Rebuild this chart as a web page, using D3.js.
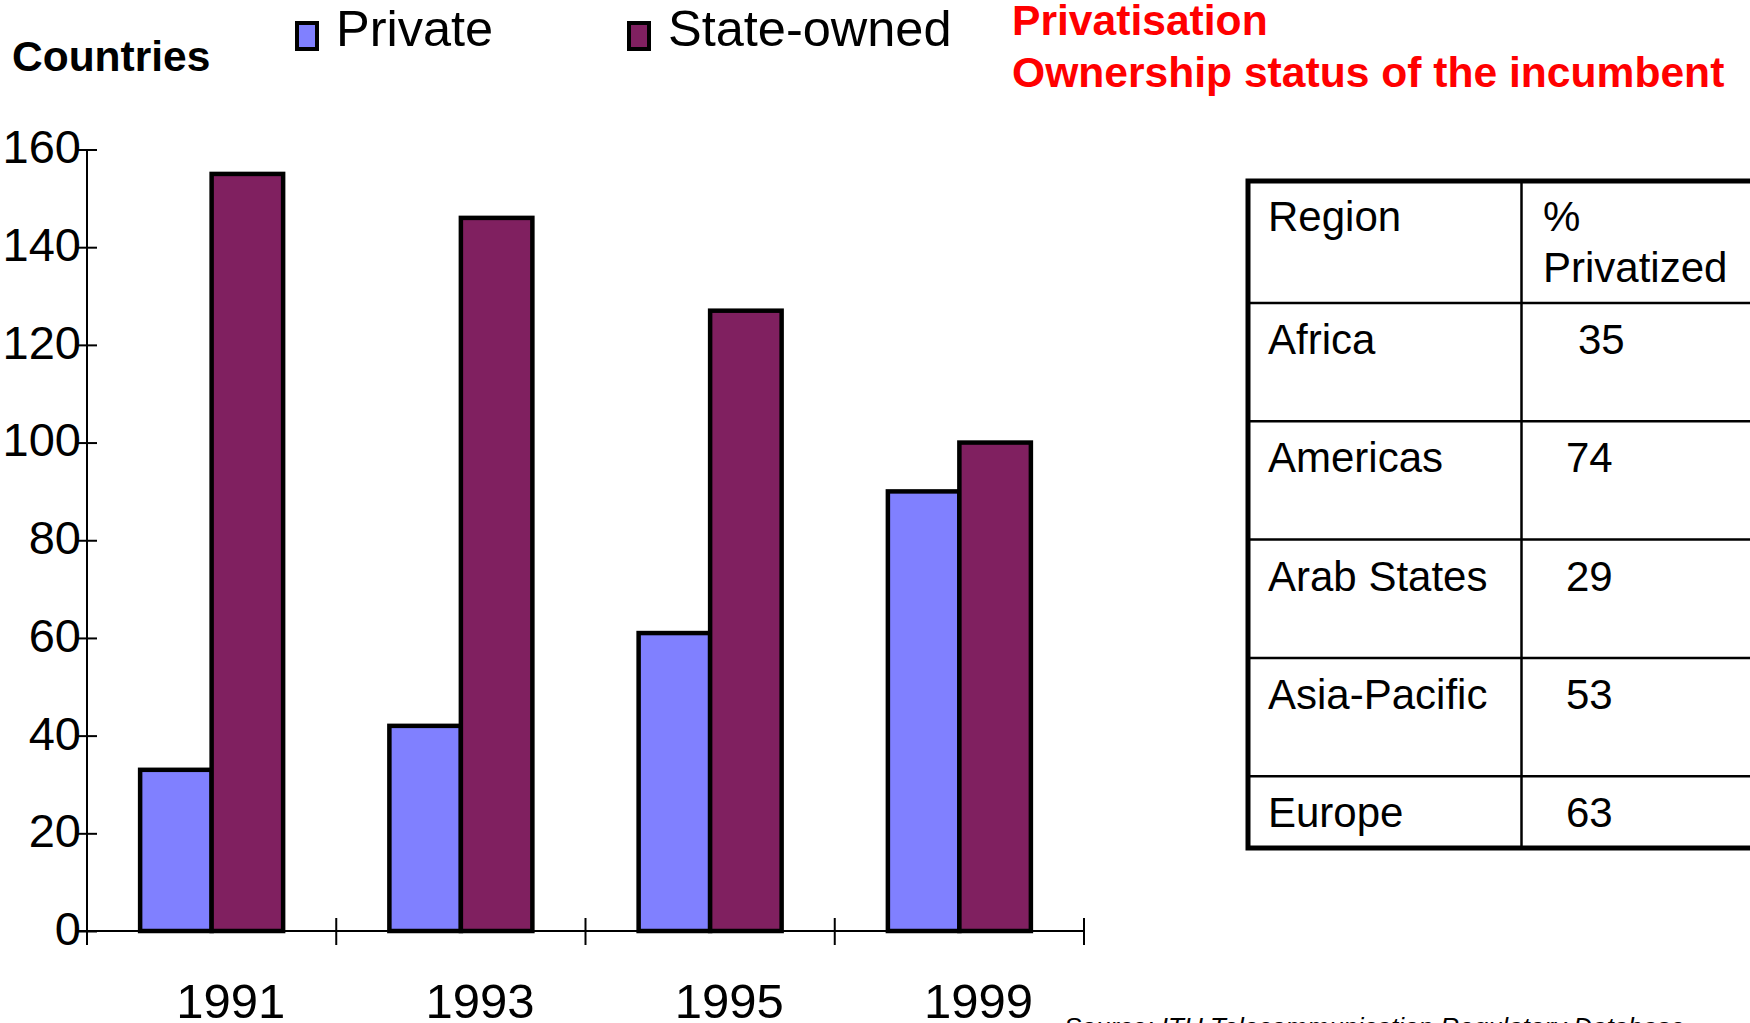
<!DOCTYPE html>
<html>
<head>
<meta charset="utf-8">
<script src="https://cdn.jsdelivr.net/npm/d3@7"></script>
<style>
  body { margin: 0; background: #fff; }
  svg { display: block; font-family: 'Liberation Sans', Arial, sans-serif; }
</style>
</head>
<body>
<svg id="chart" width="1750" height="1023"></svg>
<script>
// данные графика
const years = ['1991', '1993', '1995', '1999'];
const seriesNames = ['Private', 'State-owned'];
const privateCountries = [33, 42, 61, 90];
const stateCountries = [155, 146, 127, 100];
const yTicks = [0, 20, 40, 60, 80, 100, 120, 140, 160];

// таблица справа
const regions = ['Africa', 'Americas', 'Arab States', 'Asia-Pacific', 'Europe'];
const privatizedPct = [35, 74, 29, 53, 63];

const colors = {'Private': '#8080ff', 'State-owned': '#802060'};

const svg = d3.select('#chart');

const x0 = d3.scaleBand().domain(years).range([87, 1084]);
const groupW = 143;
const x1 = d3.scaleBand()
    .domain(seriesNames)
    .range([(x0.bandwidth() - groupW) / 2, (x0.bandwidth() + groupW) / 2]);
const y = d3.scaleLinear().domain([0, 160]).range([931, 149.5]);

// ось Y
const yAxis = svg.append('g')
    .attr('transform', 'translate(87,0)')
    .call(d3.axisLeft(y).tickValues(yTicks).tickSize(10));
yAxis.select('.domain').remove();
yAxis.selectAll('.tick line')
    .attr('x1', -10).attr('x2', 10)
    .attr('stroke', '#000').attr('stroke-width', 2);
yAxis.selectAll('.tick text')
    .attr('x', -6).attr('y', -3.5).attr('dy', '0.36em')
    .attr('fill', '#000')
    .style('font-size', '47px');
yAxis.append('line')
    .attr('y1', y(160)).attr('y2', 945)
    .attr('stroke', '#000').attr('stroke-width', 2);

// ось X: линия + засечки на границах групп
svg.append('line')
    .attr('x1', 77).attr('x2', x0.range()[1])
    .attr('y1', y(0)).attr('y2', y(0))
    .attr('stroke', '#000').attr('stroke-width', 2);
svg.append('g').selectAll('line')
    .data(years.map(d => x0(d)).concat(x0.range()[1]))
    .enter()
    .append('line')
    .attr('x1', d => d).attr('x2', d => d)
    .attr('y1', y(0) - 13).attr('y2', y(0) + 14)
    .attr('stroke', '#000').attr('stroke-width', 2);

const xAxis = svg.append('g')
    .attr('transform', 'translate(0,' + y(0) + ')')
    .call(d3.axisBottom(x0).tickSize(0));
xAxis.select('.domain').remove();
xAxis.selectAll('.tick text')
    .attr('y', 87).attr('dy', 0).attr('dx', 19)
    .attr('fill', '#000')
    .style('font-size', '49px');

// столбцы
const groups = svg.append('g').selectAll('g')
    .data(years.map((yr, i) => ({
        year: yr,
        values: [
            {name: 'Private', v: privateCountries[i]},
            {name: 'State-owned', v: stateCountries[i]}
        ]
    })))
    .enter()
    .append('g')
    .attr('transform', d => 'translate(' + x0(d.year) + ',0)');

groups.selectAll('rect')
    .data(d => d.values)
    .enter()
    .append('rect')
    .attr('x', d => x1(d.name))
    .attr('width', x1.bandwidth())
    .attr('y', d => y(d.v))
    .attr('height', d => y(0) - y(d.v))
    .attr('fill', d => colors[d.name])
    .attr('stroke', '#000')
    .attr('stroke-width', 4.5);

// легенда
const legendX = [297, 629];
const legend = svg.append('g').selectAll('g')
    .data(seriesNames)
    .enter()
    .append('g')
    .attr('transform', (d, i) => 'translate(' + legendX[i] + ',0)');
legend.append('rect')
    .attr('x', 0).attr('y', 23)
    .attr('width', 20).attr('height', 26)
    .attr('fill', d => colors[d])
    .attr('stroke', '#000').attr('stroke-width', 4);
legend.append('text')
    .attr('x', 39).attr('y', 46)
    .style('font-size', '50.5px')
    .text(d => d);

svg.append('text')
    .attr('x', 12).attr('y', 71)
    .style('font-size', '42.5px').style('font-weight', 'bold')
    .text('Countries');

// заголовок
const title = svg.append('g')
    .attr('fill', '#ff0000')
    .style('font-size', '42.6px').style('font-weight', 'bold');
title.append('text').attr('x', 1012).attr('y', 35).text('Privatisation');
title.append('text').attr('x', 1012).attr('y', 87).text('Ownership status of the incumbent');

// таблица
const tLeft = 1248, tDiv = 1521.5, tRight = 1780;
const tTop = 181, headBottom = 303, rowH = 118.3, tBottom = 848;
const table = svg.append('g');
const rowLines = regions.slice(1).map((d, i) => headBottom + (i + 1) * rowH);

table.selectAll('line.row')
    .data([headBottom].concat(rowLines))
    .enter()
    .append('line')
    .attr('class', 'row')
    .attr('x1', tLeft).attr('x2', tRight)
    .attr('y1', d => d).attr('y2', d => d)
    .attr('stroke', '#000').attr('stroke-width', 2.5);
table.append('line')
    .attr('x1', tDiv).attr('x2', tDiv)
    .attr('y1', tTop).attr('y2', tBottom)
    .attr('stroke', '#000').attr('stroke-width', 2.5);
table.append('path')
    .attr('d', 'M' + tRight + ',' + tTop + 'H' + tLeft + 'V' + tBottom + 'H' + tRight)
    .attr('fill', 'none')
    .attr('stroke', '#000').attr('stroke-width', 5);

const cellText = table.append('g').style('font-size', '42px');
cellText.append('text').attr('x', 1268).attr('y', tTop + 50).text('Region');
cellText.append('text').attr('x', 1543).attr('y', tTop + 50).text('%');
cellText.append('text').attr('x', 1543).attr('y', tTop + 101).text('Privatized');

cellText.selectAll('text.region')
    .data(regions)
    .enter()
    .append('text')
    .attr('class', 'region')
    .attr('x', 1268)
    .attr('y', (d, i) => headBottom + i * rowH + 51)
    .text(d => d);
cellText.selectAll('text.pct')
    .data(privatizedPct)
    .enter()
    .append('text')
    .attr('class', 'pct')
    .attr('x', (d, i) => i === 0 ? 1578 : 1566) // у Africa в оригинале лишний пробел
    .attr('y', (d, i) => headBottom + i * rowH + 51)
    .text(d => d);

// источник (обрезан снизу, как в оригинале)
svg.append('text')
    .attr('x', 1064).attr('y', 1036)
    .style('font-size', '26px').style('font-style', 'italic')
    .text('Source: ITU Telecommunication Regulatory Database');
</script>
</body>
</html>
